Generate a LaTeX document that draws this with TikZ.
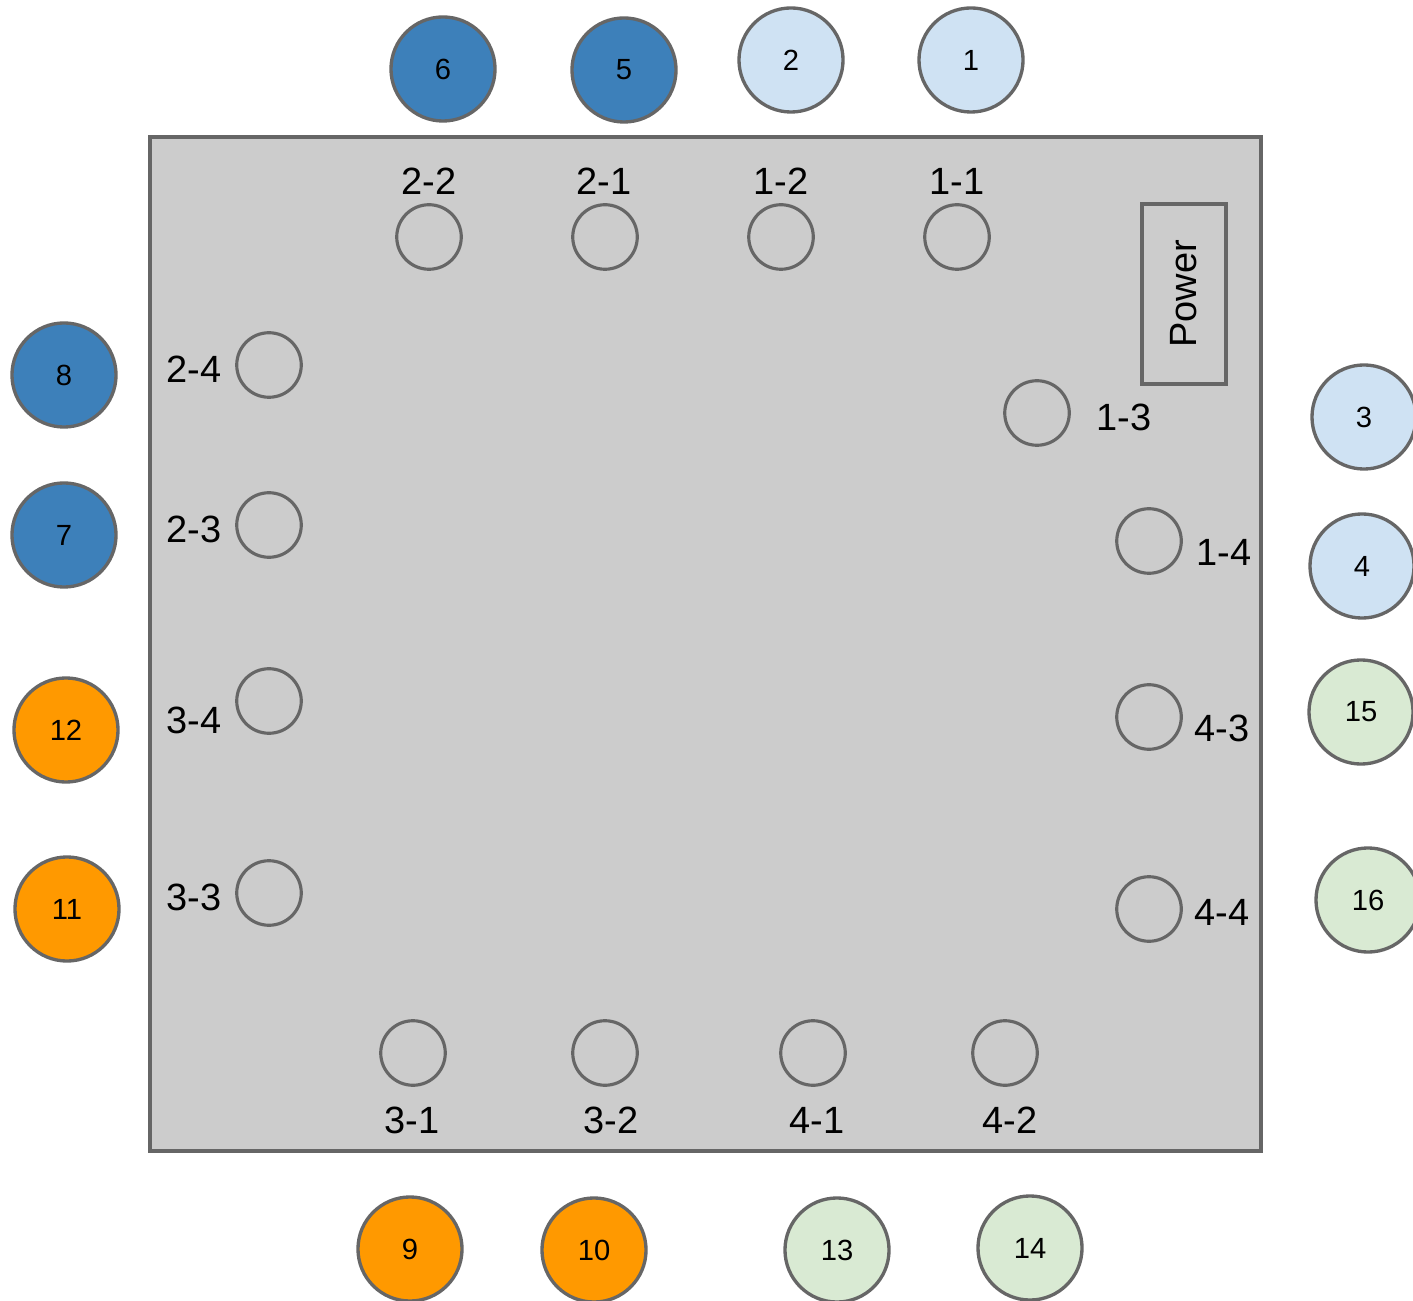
\documentclass[tikz,border=0pt]{standalone}
\usepackage{fontspec}
\setmainfont{Liberation Sans}
\definecolor{edge}{HTML}{666666}
\definecolor{board}{HTML}{CCCCCC}
\definecolor{dblue}{HTML}{3D80BA}
\definecolor{lblue}{HTML}{CFE2F3}
\definecolor{orng}{HTML}{FF9900}
\definecolor{lgreen}{HTML}{D9EAD3}
\tikzset{
  lamp/.style={circle, draw=edge, line width=0.95pt, minimum size=1.04cm, inner sep=0pt,
    font=\fontsize{8.3}{9}\selectfont},
  socket/.style={circle, draw=edge, line width=0.9pt, minimum size=0.645cm, inner sep=0pt},
  tag/.style={inner sep=0pt, font=\fontsize{10.8}{12}\selectfont},
}
\begin{document}
\begin{tikzpicture}[x=0.01cm, y=-0.01cm]
\useasboundingbox (0,0) rectangle (1413,1301);
% board
\draw[draw=edge, fill=board, line width=0.95pt] (150,137) rectangle (1261,1151);
\node[draw=edge, line width=0.9pt, minimum width=1.80cm, minimum height=0.84cm, rotate=90,
  font=\fontsize{10.8}{12}\selectfont] (power) at (1184,294) {Power};
% sockets on the board
\node[socket] (s22) at (429,237) {};
\node[socket] (s21) at (605,237) {};
\node[socket] (s12) at (781,237) {};
\node[socket] (s11) at (957,237) {};
\node[socket] (s24) at (269,365) {};
\node[socket] (s23) at (269,525) {};
\node[socket] (s34) at (269,701) {};
\node[socket] (s33) at (269,893) {};
\node[socket] (s13) at (1037,413) {};
\node[socket] (s14) at (1149,541) {};
\node[socket] (s43) at (1149,717) {};
\node[socket] (s44) at (1149,909) {};
\node[socket] (s31) at (413,1053) {};
\node[socket] (s32) at (605,1053) {};
\node[socket] (s41) at (813,1053) {};
\node[socket] (s42) at (1005,1053) {};
% socket labels
\node[tag] (t22) at (429,181) {2-2};
\node[tag] (t21) at (604,181) {2-1};
\node[tag] (t12) at (781,181) {1-2};
\node[tag] (t11) at (957,181) {1-1};
\node[tag] (t24) at (194,369) {2-4};
\node[tag] (t23) at (194,529) {2-3};
\node[tag] (t34) at (194,720) {3-4};
\node[tag] (t33) at (194,897) {3-3};
\node[tag] (t13) at (1124,417) {1-3};
\node[tag] (t14) at (1224,552) {1-4};
\node[tag] (t43) at (1222,728) {4-3};
\node[tag] (t44) at (1222,912) {4-4};
\node[tag] (t31) at (412,1120) {3-1};
\node[tag] (t32) at (611,1120) {3-2};
\node[tag] (t41) at (817,1120) {4-1};
\node[tag] (t42) at (1010,1120) {4-2};
% numbered lamps around the board
\node[lamp, fill=dblue] (n6) at (443,69) {6};
\node[lamp, fill=dblue] (n5) at (624,70) {5};
\node[lamp, fill=lblue] (n2) at (791,60) {2};
\node[lamp, fill=lblue] (n1) at (971,60) {1};
\node[lamp, fill=dblue] (n8) at (64,375) {8};
\node[lamp, fill=dblue] (n7) at (64,535) {7};
\node[lamp, fill=orng] (n12) at (66,730) {12};
\node[lamp, fill=orng] (n11) at (67,909) {11};
\node[lamp, fill=lblue] (n3) at (1364,417) {3};
\node[lamp, fill=lblue] (n4) at (1362,566) {4};
\node[lamp, fill=lgreen] (n15) at (1361,712) {15};
\node[lamp, fill=lgreen] (n16) at (1368,900) {16};
\node[lamp, fill=orng] (n9) at (410,1249) {9};
\node[lamp, fill=orng] (n10) at (594,1250) {10};
\node[lamp, fill=lgreen] (n13) at (837,1250) {13};
\node[lamp, fill=lgreen] (n14) at (1030,1248) {14};
\end{tikzpicture}
\end{document}
